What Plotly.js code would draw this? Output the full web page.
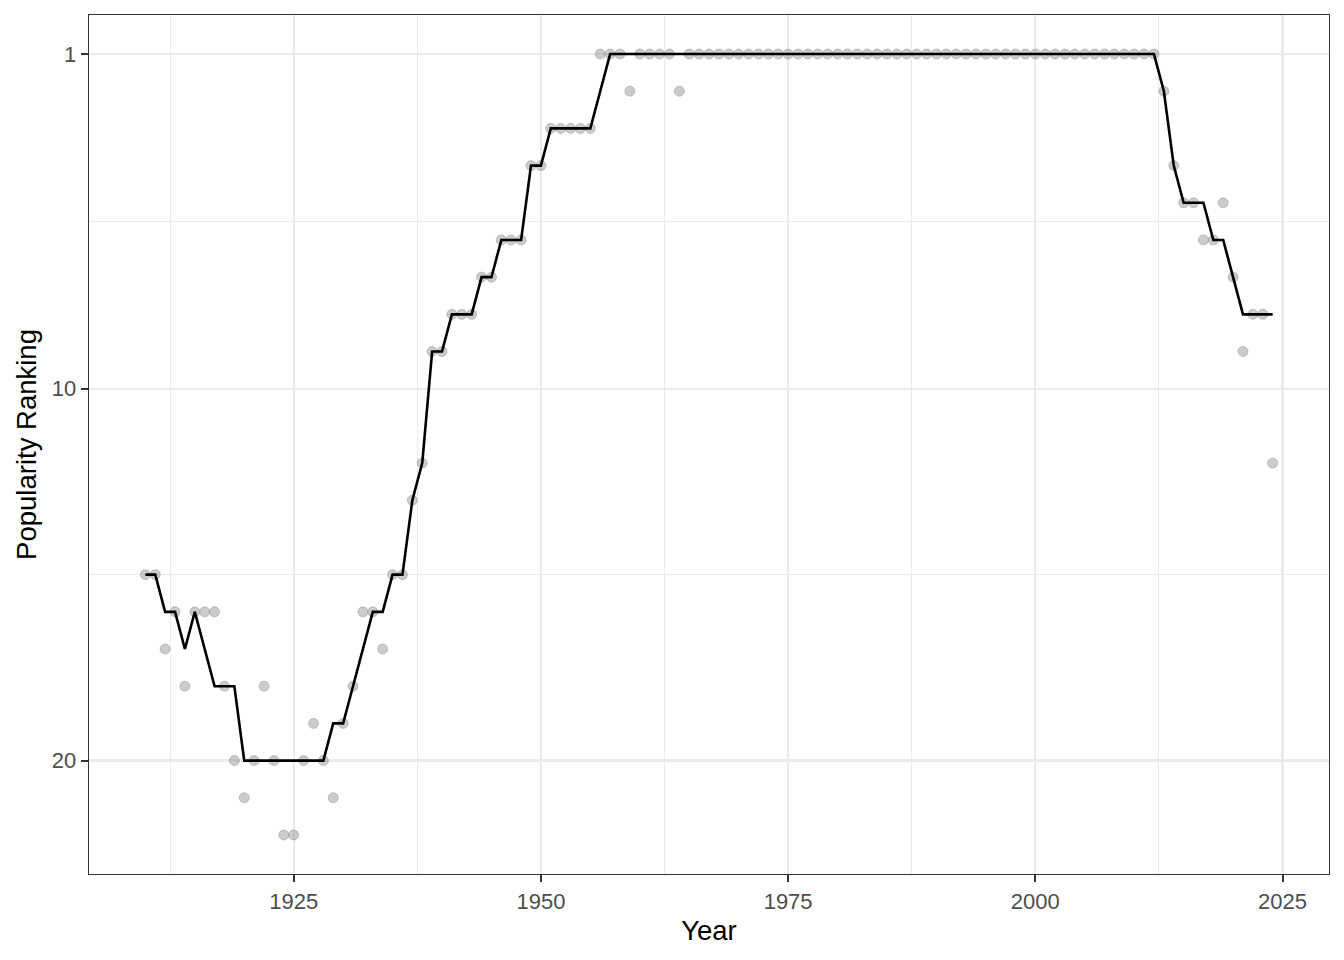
<!DOCTYPE html>
<html>
<head>
<meta charset="utf-8">
<script src="https://cdn.plot.ly/plotly-3.0.1.min.js"></script>
<style>
html,body{margin:0;padding:0;background:#fff;}
#chart{width:1344px;height:960px;}
</style>
</head>
<body>
<div id="chart"></div>
<script>
const years = [
  1910,1911,1912,1913,1914,1915,1916,1917,1918,1919,
  1920,1921,1922,1923,1924,1925,1926,1927,1928,1929,
  1930,1931,1932,1933,1934,1935,1936,1937,1938,1939,
  1940,1941,1942,1943,1944,1945,1946,1947,1948,1949,
  1950,1951,1952,1953,1954,1955,1956,1957,1958,1959,
  1960,1961,1962,1963,1964,1965,1966,1967,1968,1969,
  1970,1971,1972,1973,1974,1975,1976,1977,1978,1979,
  1980,1981,1982,1983,1984,1985,1986,1987,1988,1989,
  1990,1991,1992,1993,1994,1995,1996,1997,1998,1999,
  2000,2001,2002,2003,2004,2005,2006,2007,2008,2009,
  2010,2011,2012,2013,2014,2015,2016,2017,2018,2019,
  2020,2021,2022,2023,2024
];
const rankPoints = [
  15,15,17,16,18,16,16,16,18,20,
  21,20,18,20,22,22,20,19,20,21,
  19,18,16,16,17,15,15,13,12,9,
  9,8,8,8,7,7,6,6,6,4,
  4,3,3,3,3,3,1,1,1,2,
  1,1,1,1,2,1,1,1,1,1,
  1,1,1,1,1,1,1,1,1,1,
  1,1,1,1,1,1,1,1,1,1,
  1,1,1,1,1,1,1,1,1,1,
  1,1,1,1,1,1,1,1,1,1,
  1,1,1,2,4,5,5,6,6,5,
  7,9,8,8,12
];
const rankTrend = [
  15,15,16,16,17,16,17,18,18,18,
  20,20,20,20,20,20,20,20,20,19,
  19,18,17,16,16,15,15,13,12,9,
  9,8,8,8,7,7,6,6,6,4,
  4,3,3,3,3,3,2,1,1,1,
  1,1,1,1,1,1,1,1,1,1,
  1,1,1,1,1,1,1,1,1,1,
  1,1,1,1,1,1,1,1,1,1,
  1,1,1,1,1,1,1,1,1,1,
  1,1,1,1,1,1,1,1,1,1,
  1,1,1,2,4,5,5,5,6,6,
  7,8,8,8,8
];
const xTickVals = [1925,1950,1975,2000,2025];
const xTickText = ['1925','1950','1975','2000','2025'];
const xMinorVals = [1912.5,1937.5,1962.5,1987.5,2012.5];
const yTickVals = [1,10,20];
const yTickText = ['1','10','20'];
const yMinorVals = [5.5,15];

const FONT = 'Liberation Sans, Arial, sans-serif';

const traces = [
  {
    x: years, y: rankPoints, type: 'scatter', mode: 'markers',
    marker: {size: 10, color: 'rgba(127,127,127,0.4)', line: {color: 'rgba(127,127,127,0.4)', width: 1}},
    hoverinfo: 'x+y', showlegend: false
  },
  {
    x: years, y: rankTrend, type: 'scatter', mode: 'lines',
    line: {color: '#000000', width: 2.6},
    hoverinfo: 'x+y', showlegend: false
  }
];

const axisCommon = {
  showline: true, mirror: true, linecolor: '#333333', linewidth: 1.3,
  ticks: 'outside', ticklen: 7, tickwidth: 2, tickcolor: '#333333',
  showgrid: true, gridcolor: '#EBEBEB', gridwidth: 2.2,
  zeroline: false,
  tickfont: {family: FONT, size: 22, color: '#4D4D4D'}
};

const layout = {
  width: 1344, height: 960,
  paper_bgcolor: '#ffffff', plot_bgcolor: '#ffffff',
  margin: {l: 89, r: 15, t: 15, b: 86},
  showlegend: false,
  xaxis: Object.assign({}, axisCommon, {
    range: [1904.3, 2029.7],
    tickmode: 'array', tickvals: xTickVals, ticktext: xTickText,
    minor: {tickmode: 'array', tickvals: xMinorVals, showgrid: true, gridcolor: '#EBEBEB', gridwidth: 1.1, ticks: ''},
    title: {text: 'Year', font: {family: FONT, size: 27.5, color: '#000000'}, standoff: 8}
  }),
  yaxis: Object.assign({}, axisCommon, {
    range: [23.05, -0.05],
    tickmode: 'array', tickvals: yTickVals, ticktext: yTickText,
    minor: {tickmode: 'array', tickvals: yMinorVals, showgrid: true, gridcolor: '#EBEBEB', gridwidth: 1.1, ticks: ''},
    title: {text: 'Popularity Ranking', font: {family: FONT, size: 27.5, color: '#000000'}, standoff: 7}
  })
};

Plotly.newPlot('chart', traces, layout, {staticPlot: true, displayModeBar: false});
</script>
</body>
</html>
